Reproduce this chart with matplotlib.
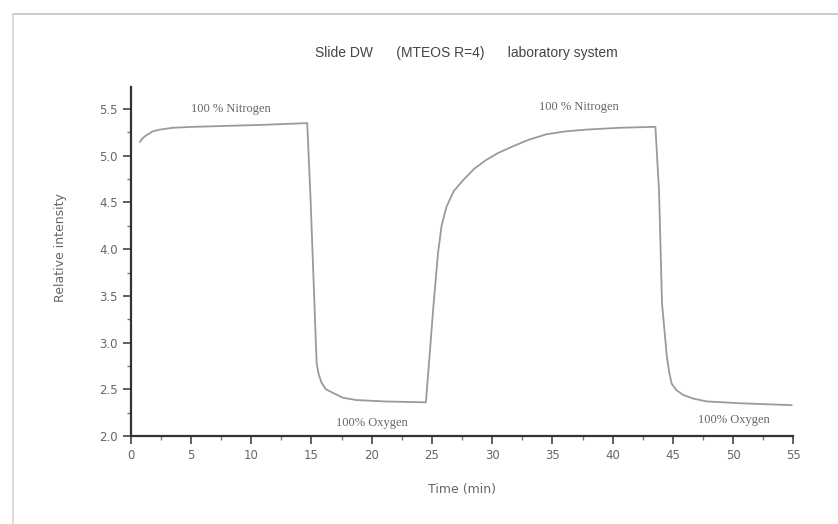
import matplotlib
matplotlib.use("Agg")
import matplotlib.pyplot as plt
from matplotlib.lines import Line2D
from matplotlib.ticker import MultipleLocator, FormatStrFormatter

# trace
time_min = [0.77, 1.0, 1.3, 1.8, 2.4, 3.5, 5.2, 10.7, 14.65, 14.93, 15.43,
            15.6, 15.84, 16.2, 16.8, 17.6, 18.7, 21.0, 24.5, 24.8, 25.1, 25.5,
            25.8, 26.2, 26.8, 27.6, 28.5, 29.5, 30.5, 31.7, 33.0, 34.5, 36.0,
            37.8, 40.6, 43.55, 43.85, 44.1, 44.5, 44.7, 44.9, 45.3, 45.85,
            46.7, 47.8, 50.6, 54.85]
intensity = [5.15, 5.19, 5.22, 5.26, 5.28, 5.30, 5.31, 5.33, 5.35, 4.53, 2.78,
             2.66, 2.57, 2.50, 2.46, 2.41, 2.385, 2.37, 2.36, 2.85, 3.35, 3.95,
             4.25, 4.45, 4.62, 4.74, 4.86, 4.955, 5.03, 5.10, 5.17, 5.23, 5.26,
             5.28, 5.30, 5.31, 4.63, 3.42, 2.85, 2.68, 2.56, 2.49, 2.44,
             2.40, 2.37, 2.35, 2.33]

# gas labels placed on the plot
gas_labels = ["100 % Nitrogen", "100 % Nitrogen", "100% Oxygen", "100% Oxygen"]
gas_x = [8.3, 37.2, 20.0, 50.1]
gas_y = [5.5, 5.52, 2.135, 2.17]

title = "Slide DW      (MTEOS R=4)      laboratory system"

fig = plt.figure(figsize=(8.38, 5.24), dpi=100)
ax = fig.add_axes([0.156, 0.168, 0.7907, 0.6666])

ax.plot(time_min, intensity, color="#9a9a9a", lw=1.3)

ax.set_xlim(0, 55)
ax.set_ylim(2.0, 5.74)
ax.xaxis.set_major_locator(MultipleLocator(5))
ax.xaxis.set_minor_locator(MultipleLocator(2.5))
ax.yaxis.set_major_locator(MultipleLocator(0.5))
ax.yaxis.set_minor_locator(MultipleLocator(0.25))
ax.yaxis.set_major_formatter(FormatStrFormatter("%.1f"))

for s in ["top", "right"]:
    ax.spines[s].set_visible(False)
for s in ["left", "bottom"]:
    ax.spines[s].set_color("#333333")
    ax.spines[s].set_linewidth(1.6)

ax.tick_params(which="major", direction="out", length=6, width=1.2,
               color="#444444", labelsize=8.5, labelcolor="#666666")
ax.tick_params(which="minor", direction="out", length=3, width=1.0, color="#777777")

ax.set_ylabel("Relative intensity", fontsize=9, color="#666666")
ax.yaxis.set_label_coords(-0.096, 0.54)
ax.set_xlabel("Time (min)", fontsize=9, color="#666666")
ax.xaxis.set_label_coords(0.5, -0.135)

for lab, x, y in zip(gas_labels, gas_x, gas_y):
    ax.text(x, y, lab, ha="center", va="center", fontsize=9,
            color="#666666", family="Liberation Serif")

fig.text(0.557, 0.899, title, ha="center", va="center", fontsize=10,
         color="#444444", family="Liberation Sans")

# scan frame lines
fx = 13 / 838
fy = 1 - 14 / 524
fig.add_artist(Line2D([fx, 1], [fy, fy], color="#c4c4c4", lw=1.2,
                      transform=fig.transFigure))
fig.add_artist(Line2D([fx, fx], [0, fy], color="#d4d4d4", lw=1.2,
                      transform=fig.transFigure))

fig.savefig("out.png", dpi=100)
